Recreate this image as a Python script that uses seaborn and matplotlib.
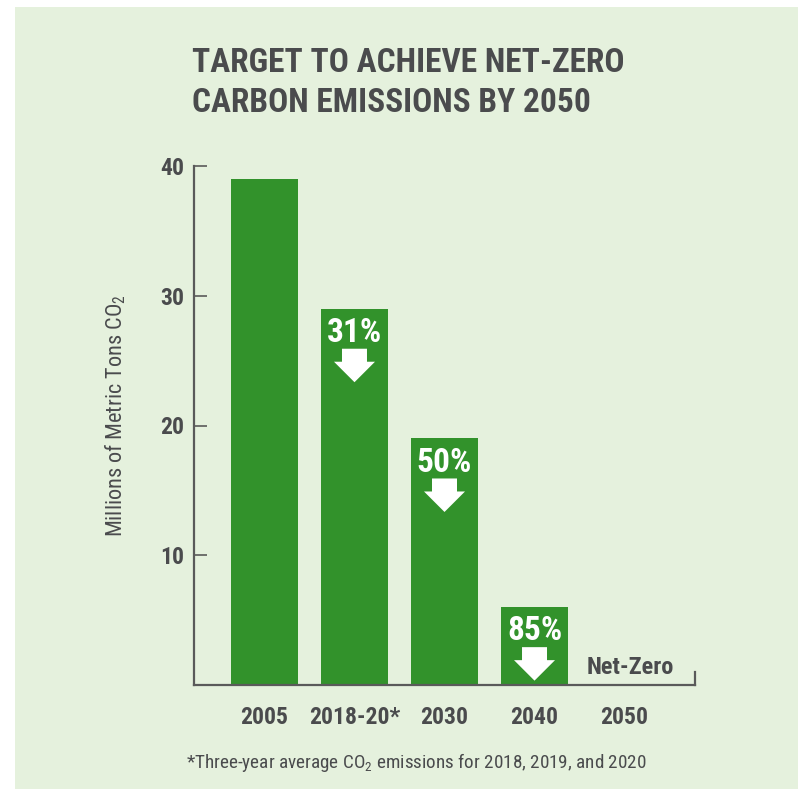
import matplotlib
matplotlib.use("Agg")
import matplotlib.pyplot as plt
import seaborn as sns
import pandas as pd
from matplotlib.patches import Polygon, Rectangle
from matplotlib.transforms import ScaledTranslation

# ---- data ----
years = ["2005", "2018-20*", "2030", "2040", "2050"]
emissions = [39, 29, 19, 6, 0]
reductions = ["", "31%", "50%", "85%", ""]
end_label = "Net-Zero"
yticks = [10, 20, 30, 40]

title = "TARGET TO ACHIEVE NET-ZERO\nCARBON EMISSIONS BY 2050"
ylabel = "Millions of Metric Tons CO$_2$"
footnote = "*Three-year average CO$_2$ emissions for 2018, 2019, and 2020"

# ---- style ----
BG = "#e5f1dd"
GREEN = "#32922b"
DARK = "#4a4b4d"
AXC = "#5a5a5a"

sns.set_style("white")
FONT = ["Roboto Condensed", "DejaVu Sans"]
plt.rcParams["font.family"] = FONT
plt.rcParams["mathtext.fontset"] = "custom"
plt.rcParams["mathtext.rm"] = "Roboto Condensed"
plt.rcParams["mathtext.it"] = "Roboto Condensed:italic"
plt.rcParams["mathtext.bf"] = "Roboto Condensed:bold"

fig = plt.figure(figsize=(7.98, 7.89), dpi=100, facecolor="white")
fig.patches.append(Rectangle((15 / 798, 0), 1 - 15 / 798, 1 - 7 / 789,
                             transform=fig.transFigure, facecolor=BG,
                             edgecolor="none", zorder=-10))

ax = fig.add_axes([194 / 798, 1 - 685 / 789, (695 - 194) / 798, (685 - 166) / 789])
ax.set_facecolor("none")

df = pd.DataFrame({"year": years, "emissions": emissions})
sns.barplot(data=df, x="year", y="emissions", color=GREEN, saturation=1,
            width=0.744, ax=ax, edgecolor="none")

ax.set_xlim(-0.783, 4.783)
ax.set_ylim(0, 40)
ax.set_yticks(yticks)
ax.set_yticklabels([str(t) for t in yticks])
ax.set_xlabel("")
ax.set_ylabel(ylabel, fontsize=16, color=DARK)
ax.yaxis.set_label_coords(-0.132, 0.52)

ax.spines["top"].set_visible(False)
for s in ["left", "bottom", "right"]:
    ax.spines[s].set_color(AXC)
    ax.spines[s].set_linewidth(1.6)
ax.spines["right"].set_bounds(0, 1)

ax.tick_params(axis="y", direction="in", length=9.5, width=1.2, color=AXC,
               pad=7, labelsize=17, labelcolor=DARK, left=True)
ax.tick_params(axis="x", length=0, pad=15, labelsize=17, labelcolor=DARK)
for lab in ax.get_yticklabels() + ax.get_xticklabels():
    lab.set_fontweight("bold")

# percent labels and arrows
for i, (v, r) in enumerate(zip(emissions, reductions)):
    if not r:
        continue
    ax.annotate(r, xy=(i, v), xytext=(0, -6), textcoords="offset points",
                ha="center", va="top", color="white", fontsize=24,
                fontweight="bold")
    tr = fig.dpi_scale_trans + ScaledTranslation(i, v, ax.transData)
    sw, hw = 0.125, 0.205
    t0, h0, tip = -0.40, -0.53, -0.735
    pts = [(-sw, t0), (sw, t0), (sw, h0), (hw, h0), (0, tip), (-hw, h0), (-sw, h0)]
    ax.add_patch(Polygon(pts, closed=True, transform=tr, facecolor="white",
                         edgecolor="none", zorder=5))

ax.annotate(end_label, xy=(len(years) - 1, 0), xytext=(4, 8),
            textcoords="offset points", ha="center", va="baseline",
            color=DARK, fontsize=17.5, fontweight="bold")

fig.text(192 / 798, 1 - 47 / 789, title, ha="left", va="top", color=DARK,
         fontsize=24, fontweight="bold", linespacing=1.32)

fig.text(416 / 798, 1 - 763 / 789, footnote, ha="center", va="center",
         color=DARK, fontsize=13.8)

fig.savefig("out.png", dpi=100, facecolor=fig.get_facecolor())
